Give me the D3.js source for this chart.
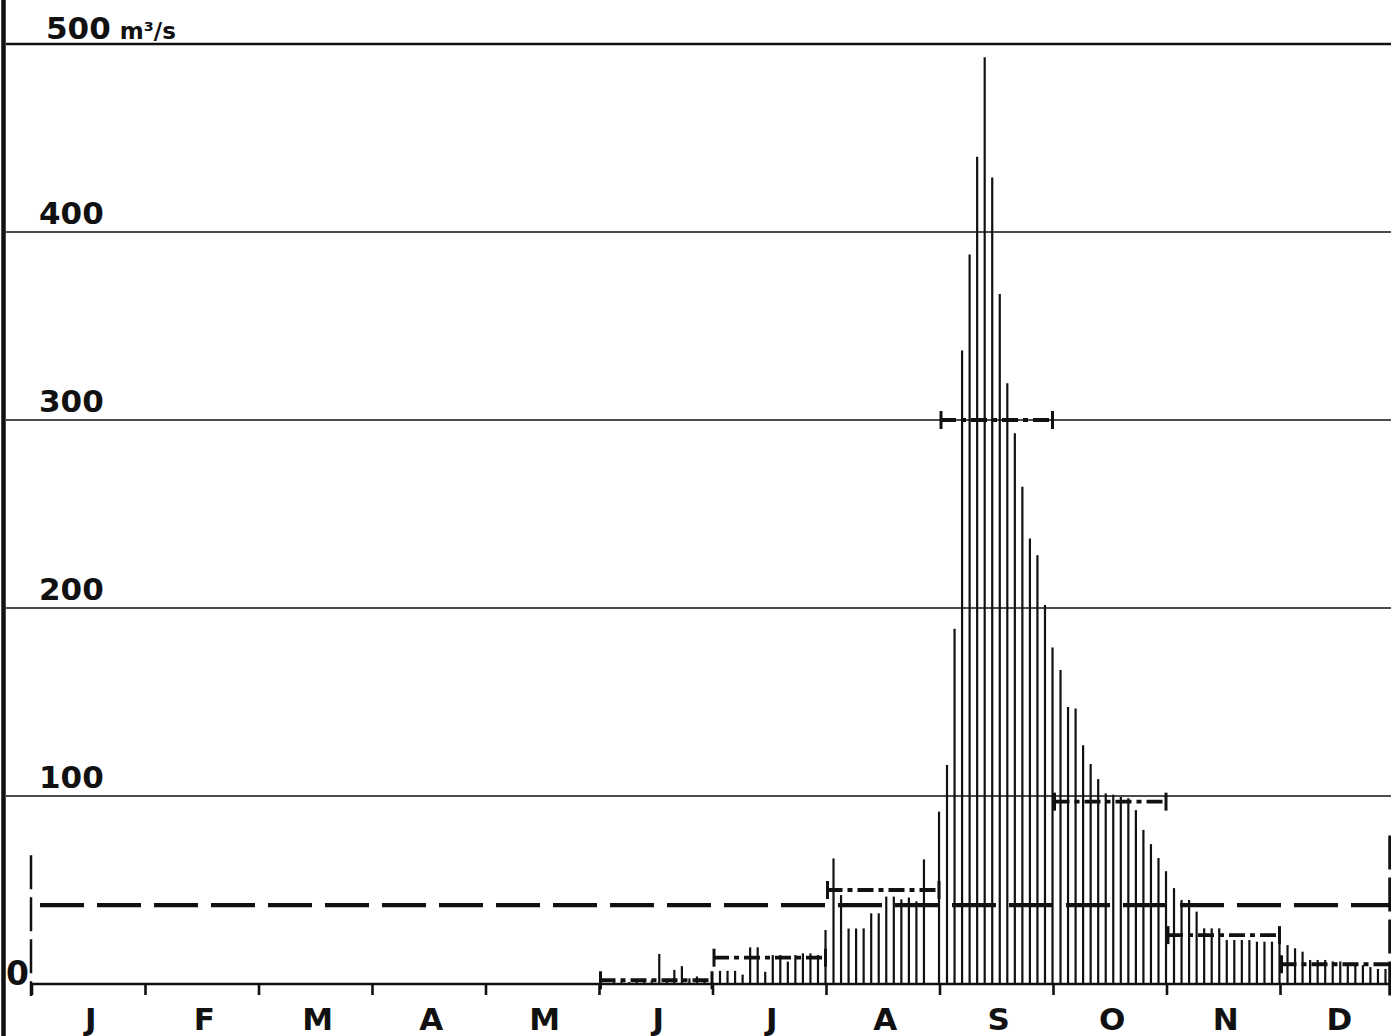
<!DOCTYPE html>
<html><head><meta charset="utf-8">
<script src="https://cdn.jsdelivr.net/npm/d3@7"></script>
<style>html,body{margin:0;padding:0;background:#fff;overflow:hidden;} svg{display:block;}</style>
</head><body>
<svg id="chart" width="1391" height="1036"></svg>
<script>
// ---- data (m³/s, one value roughly every second day, 15 per month) ----
const monthNames = ["J","F","M","A","M","J","J","A","S","O","N","D"];
const janFlow = [];
const febFlow = [];
const marFlow = [];
const aprFlow = [];
const mayFlow = [];
const junFlow = [0.5, 1, 1, 1, 1.5, 2, 2, 16, 2, 7.5, 9.5, 3, 4, 2, 1.5];
const julFlow = [7, 7, 7, 5, 19.5, 19.5, 6.5, 15.4, 15.4, 11.9, 15.4, 16.3, 16.3, 15.4, 28.7];
const augFlow = [66.8, 47.3, 29.5, 29.5, 29.6, 37.6, 37.6, 46.5, 46.5, 45, 46, 44, 66.3, null, 91.7];
const sepFlow = [116.5, 189, 337, 388, 440, 493, 429, 367, 319.5, 293, 264.5, 237, 228, 201.6, 179];
const octFlow = [167, 147.3, 146.6, 127, 117, 109, 101.4, 100.7, 99.5, 98.8, 92.5, 82, 74.4, 67, 60];
const novFlow = [51, 44.7, 44.7, 38.5, 29.6, 29.6, 29.6, 23.4, 23.4, 23.4, 23.4, 22.5, 22.5, 22.5, 21.6];
const decFlow = [20.7, 19, 17.2, 12.8, 12.8, 12.8, 12, 12, 11, 11, 10, 9, 8, 8, 8];
const monthlyMean = [null, null, null, null, null, 2, 14, 50, 300, 97, 26, 10.5];
const annualMean = 42;
const edgeFlows = [68.5, 79];            // start-of-year and end-of-year markers
const yTickValues = [100, 200, 300, 400, 500];
const yTickLabels = ["100", "200", "300", "400", "500"];
const unitLabel = "m³/s";

const flowByMonth = [janFlow, febFlow, marFlow, aprFlow, mayFlow, junFlow,
                     julFlow, augFlow, sepFlow, octFlow, novFlow, decFlow];

// ---- layout ----
const svg = d3.select("#chart");
const ink = "#111";
const x = d3.scaleLinear().domain([0, 12]).range([32, 1394]);
const y = d3.scaleLinear().domain([0, 500]).range([984, 44]);
const font = "'DejaVu Sans', Verdana, sans-serif";

// left frame
svg.append("line").attr("x1", 3.5).attr("x2", 3.5).attr("y1", 0).attr("y2", 1036)
  .attr("stroke", ink).attr("stroke-width", 4.5);

// gridlines
svg.append("g").selectAll("line").data(yTickValues).join("line")
  .attr("x1", 6).attr("x2", 1391)
  .attr("y1", d => y(d)).attr("y2", d => y(d))
  .attr("stroke", ink).attr("stroke-width", d => d === 500 ? 2.4 : 1.6);

// y labels
svg.append("g").selectAll("text").data(yTickValues).join("text")
  .attr("x", d => d === 500 ? 46 : 39)
  .attr("y", d => y(d) - (d === 500 ? 5 : 8))
  .attr("font-family", font).attr("font-weight", 700)
  .attr("font-size", 31).attr("fill", ink)
  .each(function(d, i) {
    const t = d3.select(this);
    t.append("tspan").text(yTickLabels[i]);
    if (d === 500) t.append("tspan").attr("dx", 9).attr("font-size", 23).attr("font-weight", 600).text(unitLabel);
  });
svg.append("text").attr("x", 6).attr("y", y(0) + 1).attr("font-family", font)
  .attr("font-weight", 700).attr("font-size", 33).attr("fill", ink).text("0");

// daily flow lines
const daily = [];
flowByMonth.forEach((arr, m) => arr.forEach((v, k) => {
  if (v != null && v > 0) daily.push({ pos: m + (k + 0.93) * 0.0664, v });
}));
svg.append("g").selectAll("line").data(daily).join("line")
  .attr("x1", d => x(d.pos)).attr("x2", d => x(d.pos))
  .attr("y1", y(0)).attr("y2", d => y(d.v))
  .attr("stroke", ink).attr("stroke-width", 2.2);

// annual mean dashed line
svg.append("line").attr("x1", x(0) + 8).attr("x2", 1391)
  .attr("y1", y(annualMean)).attr("y2", y(annualMean))
  .attr("stroke", ink).attr("stroke-width", 4.2).attr("stroke-dasharray", "44,13");

// edge markers (vertical dashed lines)
svg.append("line").attr("x1", x(0) - 1).attr("x2", x(0) - 1)
  .attr("y1", y(edgeFlows[0])).attr("y2", y(0) + 12)
  .attr("stroke", ink).attr("stroke-width", 2.5).attr("stroke-dasharray", "34,8");
svg.append("line").attr("x1", x(12) - 4).attr("x2", x(12) - 4)
  .attr("y1", y(edgeFlows[1])).attr("y2", y(0) + 12)
  .attr("stroke", ink).attr("stroke-width", 3.5).attr("stroke-dasharray", "34,8");

// monthly means (dash-dot with end caps)
const means = monthlyMean.map((v, m) => ({ m, v })).filter(d => d.v != null);
const mg = svg.append("g");
mg.selectAll("line.mean").data(means).join("line").attr("class", "mean")
  .attr("x1", d => x(d.m)).attr("x2", d => x(d.m + 1))
  .attr("y1", d => y(d.v)).attr("y2", d => y(d.v))
  .attr("stroke", ink).attr("stroke-width", 3.8).attr("stroke-dasharray", "16,5,5,5");
[0, 1].forEach(j => {
  mg.selectAll("line.cap" + j).data(means).join("line").attr("class", "cap" + j)
    .attr("x1", d => x(d.m + j) + (j ? -1 : 1)).attr("x2", d => x(d.m + j) + (j ? -1 : 1))
    .attr("y1", d => y(d.v) - 9).attr("y2", d => y(d.v) + 9)
    .attr("stroke", ink).attr("stroke-width", 3);
});

// x axis baseline and month ticks
svg.append("line").attr("x1", x(0)).attr("x2", 1391).attr("y1", y(0)).attr("y2", y(0))
  .attr("stroke", ink).attr("stroke-width", 2.6);
svg.append("g").selectAll("line").data(d3.range(0, 12)).join("line")
  .attr("x1", d => x(d)).attr("x2", d => x(d))
  .attr("y1", y(0)).attr("y2", y(0) + 11)
  .attr("stroke", ink).attr("stroke-width", 2.6);

// month labels
svg.append("g").selectAll("text").data(monthNames).join("text")
  .attr("x", (d, i) => x(i + 0.5) + 2).attr("y", 1030)
  .attr("text-anchor", "middle")
  .attr("font-family", font).attr("font-weight", 700).attr("font-size", 31)
  .attr("fill", ink).text(d => d);
</script>
</body></html>
